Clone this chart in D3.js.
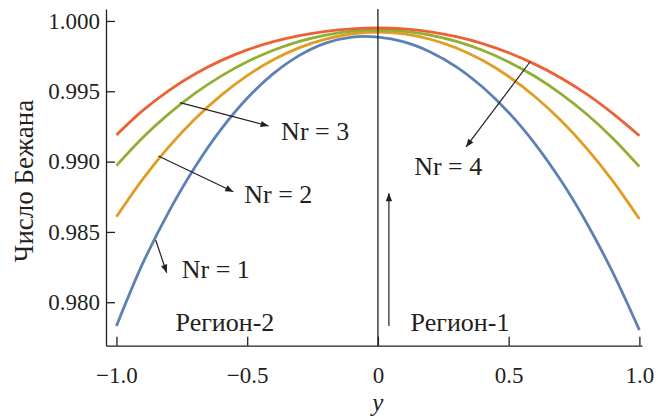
<!DOCTYPE html>
<html>
<head>
<meta charset="utf-8">
<script src="https://cdn.jsdelivr.net/npm/d3@7"></script>
<style>
  body { margin: 0; background: #fff; }
  svg text { font-family: "Liberation Serif", "DejaVu Serif", serif; fill: #231f20; }
</style>
</head>
<body>
<script>
// y coordinate across the channel
var ys = [-1.0, -0.9, -0.8, -0.7, -0.6, -0.5, -0.4, -0.3, -0.2, -0.1, 0.0,
          0.1, 0.2, 0.3, 0.4, 0.5, 0.6, 0.7, 0.8, 0.9, 1.0];

// Bejan number for each Nr
var nr1 = [0.97831, 0.98274, 0.98643, 0.98960, 0.99229, 0.99450, 0.99625, 0.99755, 0.99842, 0.99885, 0.99885,
           0.99851, 0.99780, 0.99674, 0.99530, 0.99349, 0.99128, 0.98865, 0.98558, 0.98205, 0.97802];
var nr2 = [0.98608, 0.98874, 0.99105, 0.99303, 0.99471, 0.99611, 0.99724, 0.99810, 0.99871, 0.99908, 0.99920,
           0.99908, 0.99870, 0.99808, 0.99720, 0.99605, 0.99463, 0.99292, 0.99091, 0.98858, 0.98592];
var nr3 = [0.98971, 0.99170, 0.99339, 0.99485, 0.99608, 0.99710, 0.99792, 0.99855, 0.99900, 0.99926, 0.99935,
           0.99926, 0.99900, 0.99855, 0.99792, 0.99709, 0.99607, 0.99482, 0.99335, 0.99163, 0.98964];
var nr4 = [0.99189, 0.99362, 0.99505, 0.99623, 0.99718, 0.99794, 0.99853, 0.99896, 0.99926, 0.99944, 0.99950,
           0.99943, 0.99923, 0.99888, 0.99839, 0.99774, 0.99693, 0.99595, 0.99478, 0.99340, 0.99184];

var seriesNames = ["Nr = 1", "Nr = 2", "Nr = 3", "Nr = 4"];
var seriesColors = ["#5e81b5", "#e19c24", "#8fb032", "#eb6235"];

var xTicks = [-1, -0.5, 0, 0.5, 1];
var yTicks = [0.980, 0.985, 0.990, 0.995, 1.000];

// labels with arrows: [text, text x, text y, arrow from x, from y, to x, to y]
var labels = [
  ["Nr = 3", -0.240, 0.99154, -0.757, 0.99419, -0.418, 0.99253],
  ["Nr = 2", -0.381, 0.98704, -0.840, 0.99040, -0.553, 0.98786],
  ["Nr = 1", -0.620, 0.98172, -0.850, 0.98443, -0.808, 0.98210],
  ["Nr = 4",  0.269, 0.98905,  0.582, 0.99710,  0.337, 0.99104]
];
var regions = [["Регион-2", -0.585, 0.97796], ["Регион-1", 0.314, 0.97796]];
var upArrow = [0.042, 0.97831, 0.042, 0.98775];

var W = 658, H = 419;

var svg = d3.select("body")
    .append("svg")
    .attr("width", W)
    .attr("height", H);

var x = d3.scaleLinear()
    .domain([-1.04, 1.01])
    .range([106, 642]);

var y = d3.scaleLinear()
    .domain([0.97691, 1.00085])
    .range([345.7, 9]);

svg.append("defs").append("marker")
    .attr("id", "head")
    .attr("viewBox", "0 0 10 10")
    .attr("refX", 10)
    .attr("refY", 5)
    .attr("markerUnits", "userSpaceOnUse")
    .attr("markerWidth", 11)
    .attr("markerHeight", 8)
    .attr("orient", "auto")
    .append("path")
    .attr("d", "M0,1 L10,5 L0,9 Z")
    .attr("fill", "#231f20");

// curves
var line = d3.line()
    .x(function(d) { return x(d[0]); })
    .y(function(d) { return y(d[1]); })
    .curve(d3.curveCatmullRom);

[nr1, nr2, nr3, nr4].forEach(function(vals, i) {
    svg.append("path")
        .datum(ys.map(function(v, j) { return [v, vals[j]]; }))
        .attr("fill", "none")
        .attr("stroke", seriesColors[i])
        .attr("stroke-width", 2.8)
        .attr("d", line);
});

// vertical line at y = 0
svg.append("line")
    .attr("x1", x(0)).attr("x2", x(0))
    .attr("y1", y.range()[1]).attr("y2", y.range()[0])
    .attr("stroke", "#231f20")
    .attr("stroke-width", 1.3);

// axes
var gy = svg.append("g")
    .attr("transform", "translate(" + x.range()[0] + ",0)")
    .call(d3.axisLeft(y)
        .tickValues(yTicks)
        .tickFormat(d3.format(".3f"))
        .tickSizeInner(-9)
        .tickSizeOuter(0)
        .tickPadding(6));

var gx = svg.append("g")
    .attr("transform", "translate(0," + y.range()[0] + ")")
    .call(d3.axisBottom(x)
        .tickValues(xTicks)
        .tickFormat(function(d) { return d === 0 ? "0" : d3.format(".1f")(d); })
        .tickSizeInner(-9)
        .tickSizeOuter(0)
        .tickPadding(21));

svg.selectAll("g").attr("font-family", null);
svg.selectAll(".tick text")
    .style("font-size", "23px")
    .attr("fill", "#231f20");
svg.selectAll(".domain, .tick line")
    .attr("stroke", "#231f20")
    .attr("stroke-width", 1.3);

// axis titles
svg.append("text")
    .attr("transform", "translate(33,181) rotate(-90)")
    .attr("text-anchor", "middle")
    .style("font-size", "27px")
    .text("Число Бежана");

svg.append("text")
    .attr("x", x(0))
    .attr("y", 411)
    .attr("text-anchor", "middle")
    .style("font-size", "25px")
    .style("font-style", "italic")
    .text("y");

// annotations
labels.forEach(function(l) {
    svg.append("line")
        .attr("x1", x(l[3])).attr("y1", y(l[4]))
        .attr("x2", x(l[5])).attr("y2", y(l[6]))
        .attr("stroke", "#231f20")
        .attr("stroke-width", 1.2)
        .attr("marker-end", "url(#head)");
    svg.append("text")
        .attr("x", x(l[1]))
        .attr("y", y(l[2]))
        .attr("text-anchor", "middle")
        .style("font-size", "26px")
        .text(l[0]);
});

regions.forEach(function(r) {
    svg.append("text")
        .attr("x", x(r[1]))
        .attr("y", y(r[2]))
        .attr("text-anchor", "middle")
        .style("font-size", "26px")
        .text(r[0]);
});

svg.append("line")
    .attr("x1", x(upArrow[0])).attr("y1", y(upArrow[1]))
    .attr("x2", x(upArrow[2])).attr("y2", y(upArrow[3]))
    .attr("stroke", "#231f20")
    .attr("stroke-width", 1.2)
    .attr("marker-end", "url(#head)");
</script>
</body>
</html>
